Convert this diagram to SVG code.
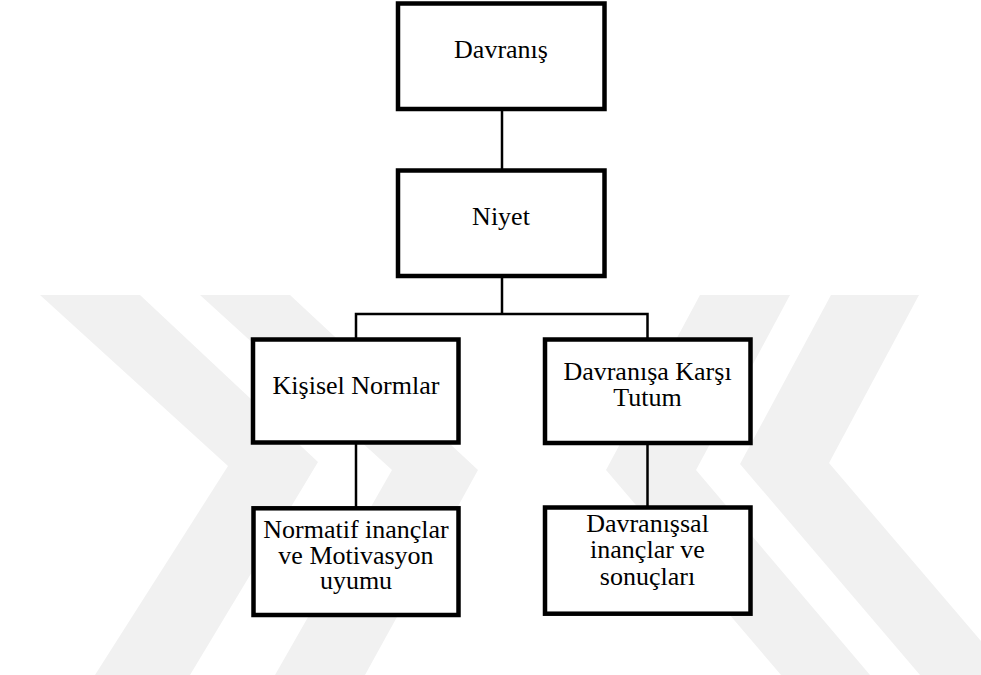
<svg xmlns="http://www.w3.org/2000/svg" width="981" height="675" viewBox="0 0 981 675">
  <style>
    .box { fill: #ffffff; stroke: #000000; stroke-width: 4.5; }
    .link { fill: none; stroke: #000000; stroke-width: 2.5; }
    .label { font-size: 26px; fill: #000000; text-anchor: middle; }
    .mark { fill: #f1f1f1; }
  </style>
  <rect x="0" y="0" width="981" height="675" fill="#ffffff"/>

  <!-- background watermark bands -->
  <g id="watermark">
    <polygon class="mark" points="40,295 140,295 318,462 190,675 95,675 228,466"/>
    <polygon class="mark" points="200,295 290,295 478,470 365,675 275,675 392,470"/>
    <polygon class="mark" points="831,295 919,295 829,463 1010,675 920,675 740,464"/>
    <polygon class="mark" points="700,295 790,295 696,470 870,675 781,675 606,470"/>
  </g>

  <!-- connectors -->
  <g id="connectors">
    <line class="link" x1="502" y1="109" x2="502" y2="170.5"/>
    <polyline class="link" points="356,339.5 356,314 647.5,314 647.5,339.5"/>
    <line class="link" x1="502" y1="276" x2="502" y2="314"/>
    <line class="link" x1="356" y1="442.5" x2="356" y2="508"/>
    <line class="link" x1="647.5" y1="443" x2="647.5" y2="507.5"/>
  </g>

  <g font-family="'Liberation Serif', Tinos, 'Times New Roman', 'DejaVu Serif', serif">
    <g id="davranis">
      <rect class="box" x="398" y="3.5" width="206.5" height="105.5"/>
      <text class="label" x="501" y="57.5">Davranış</text>
    </g>

    <g id="niyet">
      <rect class="box" x="398" y="170.5" width="206.5" height="105.5"/>
      <text class="label" x="501" y="225">Niyet</text>
    </g>

    <g id="kisisel-normlar">
      <rect class="box" x="253" y="339.5" width="205.5" height="103"/>
      <text class="label" x="356" y="394.3">Kişisel Normlar</text>
    </g>

    <g id="davranisa-karsi-tutum">
      <rect class="box" x="545" y="339.5" width="205.5" height="103.5"/>
      <text class="label" x="647.5" y="380">Davranışa Karşı</text>
      <text class="label" x="647.5" y="406">Tutum</text>
    </g>

    <g id="normatif-inanclar">
      <rect class="box" x="253.5" y="508.3" width="205" height="106.7"/>
      <text class="label" x="356" y="538.3">Normatif inançlar</text>
      <text class="label" x="356" y="563.8">ve Motivasyon</text>
      <text class="label" x="356" y="589.3">uyumu</text>
    </g>

    <g id="davranissal-inanclar">
      <rect class="box" x="545" y="507.5" width="205.5" height="106.2"/>
      <text class="label" x="647.5" y="531.7">Davranışsal</text>
      <text class="label" x="647.5" y="558.3">inançlar ve</text>
      <text class="label" x="647.5" y="585">sonuçları</text>
    </g>
  </g>
</svg>
